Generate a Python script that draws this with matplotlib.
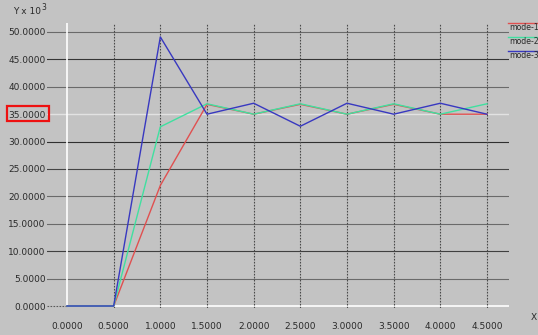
import matplotlib
matplotlib.use("Agg")
import matplotlib.pyplot as plt
from matplotlib.lines import Line2D
from matplotlib.patches import Rectangle

# time steps and response of each mode (values in units of 10^3)
x_vals = [0.0, 0.5, 1.0, 1.5, 2.0, 2.5, 3.0, 3.5, 4.0, 4.5]
mode_1 = [0.0, 0.0, 22.0, 36.8, 35.0, 36.8, 35.0, 36.8, 35.0, 35.0]
mode_2 = [0.0, 0.0, 32.7, 36.9, 35.0, 36.9, 35.0, 36.9, 35.0, 36.9]
mode_3 = [0.0, 0.0, 49.1, 35.0, 37.0, 32.8, 37.0, 35.0, 37.0, 35.0]
series_names = ["mode-1", "mode-2", "mode-3"]
series_colors = ["#e05050", "#40e0a0", "#3838c0"]

x_ticks = [0.0, 0.5, 1.0, 1.5, 2.0, 2.5, 3.0, 3.5, 4.0, 4.5]
y_ticks = [0, 5, 10, 15, 20, 25, 30, 35, 40, 45, 50]

BG = "#c3c3c3"
W, H = 538, 335
fig = plt.figure(figsize=(W / 100, H / 100), dpi=100, facecolor=BG)

# axes box in pixel terms
left_px, right_px, top_px, bot_px = 47, 509, 23, 308
x0_px, x_scale = 67, 93.33       # pixel of x=0, pixels per unit
y0_px, y_scale = 306, 5.48       # pixel of y=0, pixels per unit

ax = fig.add_axes([left_px / W, 1 - bot_px / H,
                   (right_px - left_px) / W, (bot_px - top_px) / H])
ax.set_facecolor(BG)
xmin, xmax = (left_px - x0_px) / x_scale, (right_px - x0_px) / x_scale
ymin, ymax = (y0_px - bot_px) / y_scale, (y0_px - top_px) / y_scale
ax.set_xlim(xmin, xmax)
ax.set_ylim(ymin, ymax)
for s in ax.spines.values():
    s.set_visible(False)

# horizontal grid
h_colors = {35: "#e2e2e2", 30: "#303030", 45: "#353535",
            10: "#404040", 25: "#454545"}
for yv in y_ticks[1:]:
    c = h_colors.get(yv, "#6a6a6a")
    lw = 1.0 if yv == 35 else 0.8
    ax.axhline(yv, color=c, lw=lw, zorder=1)
ax.hlines(0, xmin, 0, color="#5a5a5a", lw=0.8, ls=(0, (1.5, 1.2)), zorder=1)
ax.hlines(0, 0, xmax, color="#ffffff", lw=1.2, zorder=1)
# vertical grid
ax.vlines(0.0, 0, ymax, color="#ffffff", lw=1.2, zorder=1)
for xv in x_ticks[1:]:
    ax.axvline(xv, color="#4a4a4a", lw=0.8, ls=(0, (1.5, 1.2)), zorder=1)

for ys, c in zip([mode_1, mode_2, mode_3], series_colors):
    ax.plot(x_vals, ys, color=c, lw=1.0, zorder=3)

ax.set_xticks(x_ticks)
ax.set_xticklabels([f"{v:.4f}" for v in x_ticks])
ax.set_yticks(y_ticks)
ax.set_yticklabels([f"{v:.4f}" for v in y_ticks])
ax.tick_params(axis="both", length=0, labelsize=6.5, labelcolor="#2a2a2a")
ax.tick_params(axis="y", pad=1)
ax.tick_params(axis="x", pad=10)

# axis titles
fig.text(13 / W, 1 - 12 / H, "Y x 10", fontsize=6.5, color="#2a2a2a", va="center")
fig.text(41 / W, 1 - 7 / H, "3", fontsize=5.5, color="#2a2a2a", va="center")
fig.text(531 / W, 1 - 318 / H, "X", fontsize=6.5, color="#2a2a2a", va="center")

# legend at the right edge
for i, (name, c) in enumerate(zip(series_names, series_colors)):
    ly = 23 + 14 * i
    fig.add_artist(Line2D([508 / W, 1.0], [1 - ly / H, 1 - ly / H],
                          color=c, lw=1.0, transform=fig.transFigure))
    fig.text(509 / W, 1 - (ly + 5) / H, name, fontsize=5.6, color="#2a2a2a",
             va="center", ha="left")

# highlight box around the 35 label
fig.add_artist(Rectangle((7 / W, 1 - 121 / H), 42 / W, 15 / H, fill=False,
                         edgecolor="#ee1111", lw=1.6, transform=fig.transFigure))

fig.savefig("out.png", dpi=100, facecolor=BG)
